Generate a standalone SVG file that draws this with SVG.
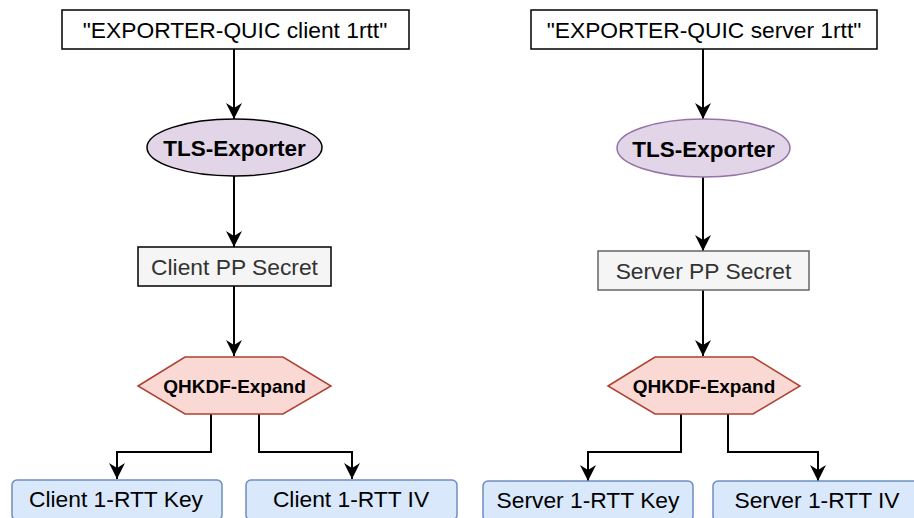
<svg xmlns="http://www.w3.org/2000/svg" width="914" height="518" viewBox="0 0 914 518">
  <style>
    .lbl { font-family: "Liberation Sans", Arial, Helvetica, sans-serif; font-size: 22.8px; fill: #000; text-anchor: middle; dominant-baseline: central; }
    .bold { font-weight: bold; font-size: 22.5px; }
    .small { font-size: 19px; }
    .grey { fill: #333333; }
    .plain { fill: #ffffff; stroke: #000; stroke-width: 1.5; }
    .secret { fill: #f5f5f5; stroke-width: 1.5; }
    .exporter { fill: #e1d5e7; stroke-width: 1.5; }
    .expand { fill: #fad9d5; stroke: #ae4132; stroke-width: 1.5; }
    .out { fill: #dae8fc; stroke: #6c8ebf; stroke-width: 1.5; }
    .edge { fill: none; stroke: #000; stroke-width: 2; marker-end: url(#arrow); }
  </style>
  <defs>
    <!-- filled arrowhead with a notched back, tip at the path end -->
    <marker id="arrow" markerUnits="userSpaceOnUse" viewBox="-17 -9 18 18" refX="0" refY="0" markerWidth="18" markerHeight="18" orient="auto">
      <path d="M0,0 L-16,-8 L-11,0 L-16,8 Z" fill="#000"/>
    </marker>
  </defs>

  <rect width="914" height="518" fill="#ffffff"/>

  <!-- connectors -->
  <g id="connectors">
    <path class="edge" d="M234,49 V119"/>
    <path class="edge" d="M234,176 V247"/>
    <path class="edge" d="M234,286 V356"/>
    <path class="edge" d="M211,414 V452 H117 V479"/>
    <path class="edge" d="M259,414 V452 H352 V479"/>

    <path class="edge" d="M703,49 V119"/>
    <path class="edge" d="M703,177 V251"/>
    <path class="edge" d="M703,290 V356"/>
    <path class="edge" d="M681,414 V452 H588 V481"/>
    <path class="edge" d="M728,414 V452 H818 V481"/>
  </g>

  <!-- client chain -->
  <g id="client-label">
    <rect class="plain" x="62" y="10" width="347" height="39"/>
    <text class="lbl" x="235" y="30">"EXPORTER-QUIC client 1rtt"</text>
  </g>
  <g id="client-exporter">
    <ellipse class="exporter" stroke="#000" cx="234.5" cy="147.5" rx="87.5" ry="28.5"/>
    <text class="lbl bold" x="234.5" y="148.5">TLS-Exporter</text>
  </g>
  <g id="client-pp-secret">
    <rect class="secret" stroke="#000" x="138" y="247" width="193" height="39"/>
    <text class="lbl grey" x="234.5" y="267">Client PP Secret</text>
  </g>
  <g id="client-expand">
    <polygon class="expand" points="138,386 185,357 283,357 331,386 283,414 185,414"/>
    <text class="lbl bold small" x="234.5" y="386">QHKDF-Expand</text>
  </g>
  <g id="client-key">
    <rect class="out" x="12" y="480" width="210" height="40" rx="5"/>
    <text class="lbl" x="116" y="499">Client 1-RTT Key</text>
  </g>
  <g id="client-iv">
    <rect class="out" x="246" y="480" width="211" height="40" rx="5"/>
    <text class="lbl" x="351" y="499">Client 1-RTT IV</text>
  </g>

  <!-- server chain -->
  <g id="server-label">
    <rect class="plain" x="531" y="10" width="346" height="39"/>
    <text class="lbl" x="704" y="30">"EXPORTER-QUIC server 1rtt"</text>
  </g>
  <g id="server-exporter">
    <ellipse class="exporter" stroke="#9673a6" cx="703.5" cy="148" rx="86.5" ry="29"/>
    <text class="lbl bold" x="703.5" y="149">TLS-Exporter</text>
  </g>
  <g id="server-pp-secret">
    <rect class="secret" stroke="#666666" x="598" y="251" width="211" height="39"/>
    <text class="lbl grey" x="703.5" y="271">Server PP Secret</text>
  </g>
  <g id="server-expand">
    <polygon class="expand" points="608,386 655,357 753,357 800,386 753,414 655,414"/>
    <text class="lbl bold small" x="704" y="386">QHKDF-Expand</text>
  </g>
  <g id="server-key">
    <rect class="out" x="483" y="481" width="210" height="40" rx="5"/>
    <text class="lbl" x="588" y="500">Server 1-RTT Key</text>
  </g>
  <g id="server-iv">
    <rect class="out" x="713" y="481" width="205" height="40" rx="5"/>
    <text class="lbl" x="817" y="500">Server 1-RTT IV</text>
  </g>
</svg>
